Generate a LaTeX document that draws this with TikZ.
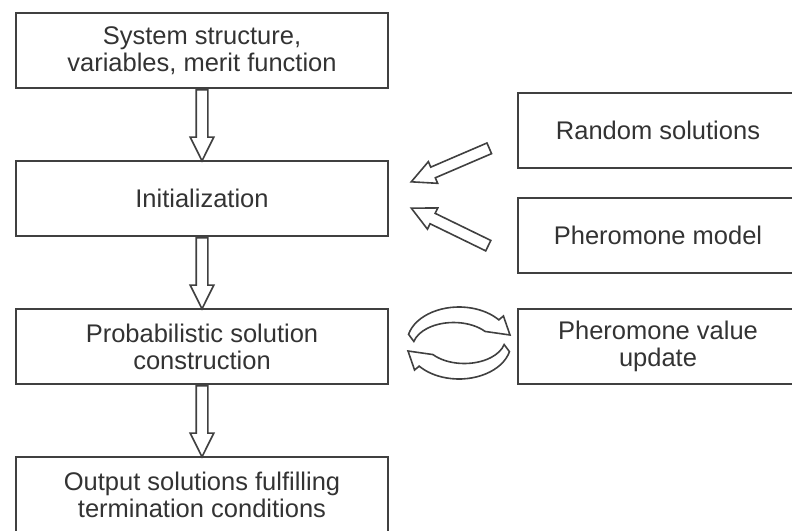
\documentclass[tikz,border=0pt]{standalone}
\usepackage{fontspec}
\setmainfont{Liberation Sans}
\usepackage{tikz}
\usetikzlibrary{positioning, shapes.arrows, calc}
\definecolor{cline}{rgb}{0.25,0.25,0.25}
\definecolor{ctext}{rgb}{0.2,0.2,0.2}
\tikzset{
node distance=74pt,
Box/.style={
	draw=cline, line width=1pt,
	minimum width=186pt, minimum height=37.5pt,
	align=center, text=ctext,
	font=\fontsize{12.75}{13.5}\selectfont
},
SideBox/.style={
	Box,
	minimum width=140pt
},
Block/.style={
	draw=cline, line width=0.8pt, fill=white,
	single arrow, single arrow head extend=3pt,
	single arrow tip angle=53, inner xsep=0pt, inner ysep=2.5pt,
	minimum width=0pt
},
Curl/.style={
	draw=cline, line width=0.8pt, fill=white
}
}
\newcommand{\BlockArrow}[2]{%
	\path let \p1=(#1), \p2=(#2), \n1={atan2(\y2-\y1,\x2-\x1)}, \n2={veclen(\x2-\x1,\y2-\y1)} in
		node[Block, rotate=\n1, minimum height=\n2, anchor=tail] at (\p1) {};}

\begin{document}
\begin{tikzpicture}
	\useasboundingbox (-101pt,25.25pt) rectangle (295pt,-239.75pt);
	\clip (-101pt,25.25pt) rectangle (295pt,-239.75pt);

	\node[Box] (S) at (0,0) {System structure,\\variables, merit function};
	\node[Box, below of=S] (I) {Initialization};
	\node[Box, below of=I] (P) {Probabilistic solution\\construction};
	\node[Box, below of=P] (O) {Output solutions fulfilling\\termination conditions};

	\node[SideBox, right of=P, node distance=228pt] (U) {Pheromone value\\update};
	\node[SideBox, above of=U, node distance=55.5pt] (M) {Pheromone model};
	\node[SideBox, above of=M, node distance=52.5pt] (R) {Random solutions};

	\BlockArrow{S.south}{I.north}
	\BlockArrow{I.south}{P.north}
	\BlockArrow{P.south}{O.north}

	\coordinate (rt) at ([xshift=-13.5pt, yshift=-8.75pt]R.west);
	\coordinate (rh) at ([xshift=11.5pt, yshift=8.5pt]I.east);
	\coordinate (mt) at ([xshift=-14pt, yshift=-5.25pt]M.west);
	\coordinate (mh) at ([xshift=11.5pt, yshift=-5pt]I.east);
	\BlockArrow{rt}{rh}
	\BlockArrow{mt}{mh}

	% exchange between construction and update
	\coordinate (c) at ($(P.east)!0.5!(U.west) + (3pt,1.75pt)$);
	\begin{scope}[shift={(c)}, x=0.5pt, y=0.5pt]
		\foreach \r in {0,180}
			\draw[Curl, rotate=\r] (166:52 and 36) arc[start angle=166, end angle=40, x radius=52, y radius=36]
				-- (40:58 and 42) -- (51,8) -- (40:34 and 18)
				arc[start angle=40, end angle=166, x radius=41, y radius=25] -- cycle;
	\end{scope}
\end{tikzpicture}
\end{document}
